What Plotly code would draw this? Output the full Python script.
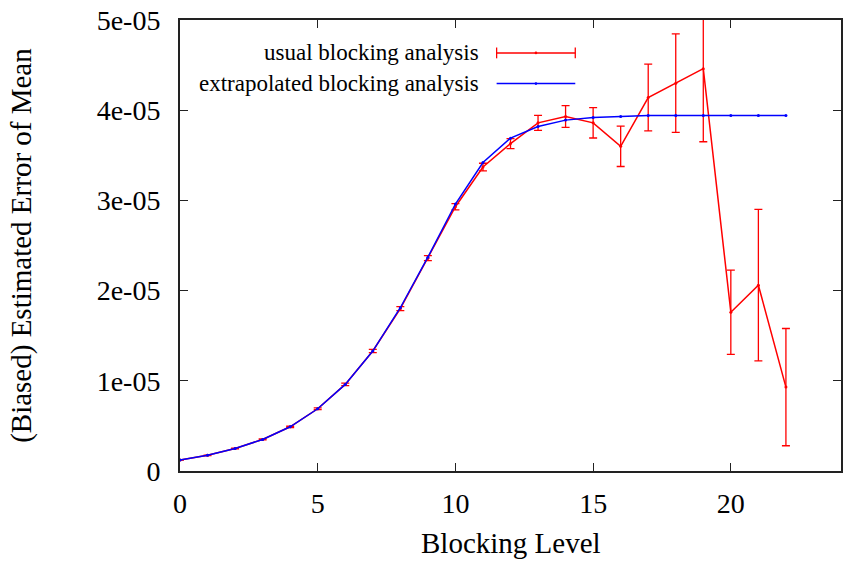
import plotly.graph_objects as go

# Blocking levels
levels = list(range(23))

# Usual blocking analysis: estimated error of mean and its uncertainty
usual = [1.22e-6, 1.74e-6, 2.5e-6, 3.5e-6, 4.9e-6, 6.9e-6, 9.6e-6, 1.33e-5,
         1.80e-5, 2.36e-5, 2.93e-5, 3.37e-5, 3.63e-5, 3.86e-5, 3.93e-5, 3.86e-5,
         3.60e-5, 4.14e-5, 4.30e-5, 4.46e-5, 1.76e-5, 2.06e-5, 0.93e-5]
usual_err = [2e-8, 3e-8, 4e-8, 6e-8, 8e-8, 1e-7, 1.4e-7, 1.8e-7, 2.2e-7, 2.8e-7,
             3.5e-7, 4.2e-7, 5.5e-7, 8.3e-7, 1.2e-6, 1.68e-6, 2.24e-6, 3.7e-6,
             5.46e-6, 8.1e-6, 4.66e-6, 8.4e-6, 6.5e-6]

# Extrapolated blocking analysis
extrap = [1.22e-6, 1.74e-6, 2.5e-6, 3.5e-6, 4.9e-6, 6.9e-6, 9.6e-6, 1.33e-5,
          1.81e-5, 2.37e-5, 2.96e-5, 3.42e-5, 3.69e-5, 3.82e-5, 3.89e-5, 3.92e-5,
          3.93e-5, 3.94e-5, 3.94e-5, 3.94e-5, 3.94e-5, 3.94e-5, 3.94e-5]

x_ticks = [0, 5, 10, 15, 20]
y_ticks = [0, 1e-5, 2e-5, 3e-5, 4e-5, 5e-5]
y_ticktext = ["0", "1e-05", "2e-05", "3e-05", "4e-05", "5e-05"]

series_names = ["usual blocking analysis", "extrapolated blocking analysis"]

FONT = "Liberation Serif, Times New Roman, serif"
RED = "#ff0000"
BLUE = "#0000ff"

fig = go.Figure()

fig.add_trace(go.Scatter(
    x=levels, y=usual, mode="lines+markers", name=series_names[0],
    line=dict(color=RED, width=1.5),
    marker=dict(color=RED, size=3),
    error_y=dict(type="data", array=usual_err, visible=True,
                 color=RED, thickness=1.3, width=4),
    showlegend=False,
))
fig.add_trace(go.Scatter(
    x=levels, y=extrap, mode="lines+markers", name=series_names[1],
    line=dict(color=BLUE, width=1.5),
    marker=dict(color=BLUE, size=3),
    showlegend=False,
))

# Key drawn by hand, gnuplot style: right-aligned labels with samples
key_text_x = 0.456
key_x0, key_x1 = 0.479, 0.598
key_rows = [(0.927, RED, True), (0.859, BLUE, False)]
shapes = []
annotations = []
for (ky, col, caps), name in zip(key_rows, series_names):
    annotations.append(dict(
        x=key_text_x, y=ky, xref="paper", yref="paper", text=name,
        showarrow=False, xanchor="right", yanchor="middle",
        font=dict(family=FONT, size=23, color="black")))
    shapes.append(dict(type="line", xref="paper", yref="paper",
                       x0=key_x0, x1=key_x1, y0=ky, y1=ky,
                       line=dict(color=col, width=1.5)))
    shapes.append(dict(type="circle", xref="paper", yref="paper",
                       x0=(key_x0 + key_x1) / 2 - 0.002, x1=(key_x0 + key_x1) / 2 + 0.002,
                       y0=ky - 0.003, y1=ky + 0.003,
                       fillcolor=col, line=dict(color=col, width=0)))
    if caps:
        for cx in (key_x0, key_x1):
            shapes.append(dict(type="line", xref="paper", yref="paper",
                               x0=cx, x1=cx, y0=ky - 0.012, y1=ky + 0.012,
                               line=dict(color=col, width=1.3)))

annotations.append(dict(
    x=0.5, y=-0.16, xref="paper", yref="paper", text="Blocking Level",
    showarrow=False, xanchor="center", yanchor="middle",
    font=dict(family=FONT, size=29, color="black")))
annotations.append(dict(
    x=-0.24, y=0.5, xref="paper", yref="paper",
    text="(Biased) Estimated Error of Mean", textangle=-90,
    showarrow=False, xanchor="center", yanchor="middle",
    font=dict(family=FONT, size=29, color="black")))

axis_common = dict(
    showline=True, linecolor="#222222", linewidth=2, mirror="ticks",
    ticks="inside", ticklen=8, tickwidth=1.3, tickcolor="#222222",
    showgrid=False, zeroline=False,
    tickfont=dict(family=FONT, size=28, color="black"),
)

fig.update_layout(
    width=844, height=562,
    margin=dict(l=180, r=1, t=20, b=91),
    paper_bgcolor="white", plot_bgcolor="white",
    xaxis=dict(range=[0, 24], tickvals=x_ticks, ticklabelstandoff=6, **axis_common),
    yaxis=dict(range=[0, 5e-5], tickvals=y_ticks, ticktext=y_ticktext,
               ticklabelstandoff=12, **axis_common),
    shapes=shapes, annotations=annotations,
)

fig.write_html("out.html")
